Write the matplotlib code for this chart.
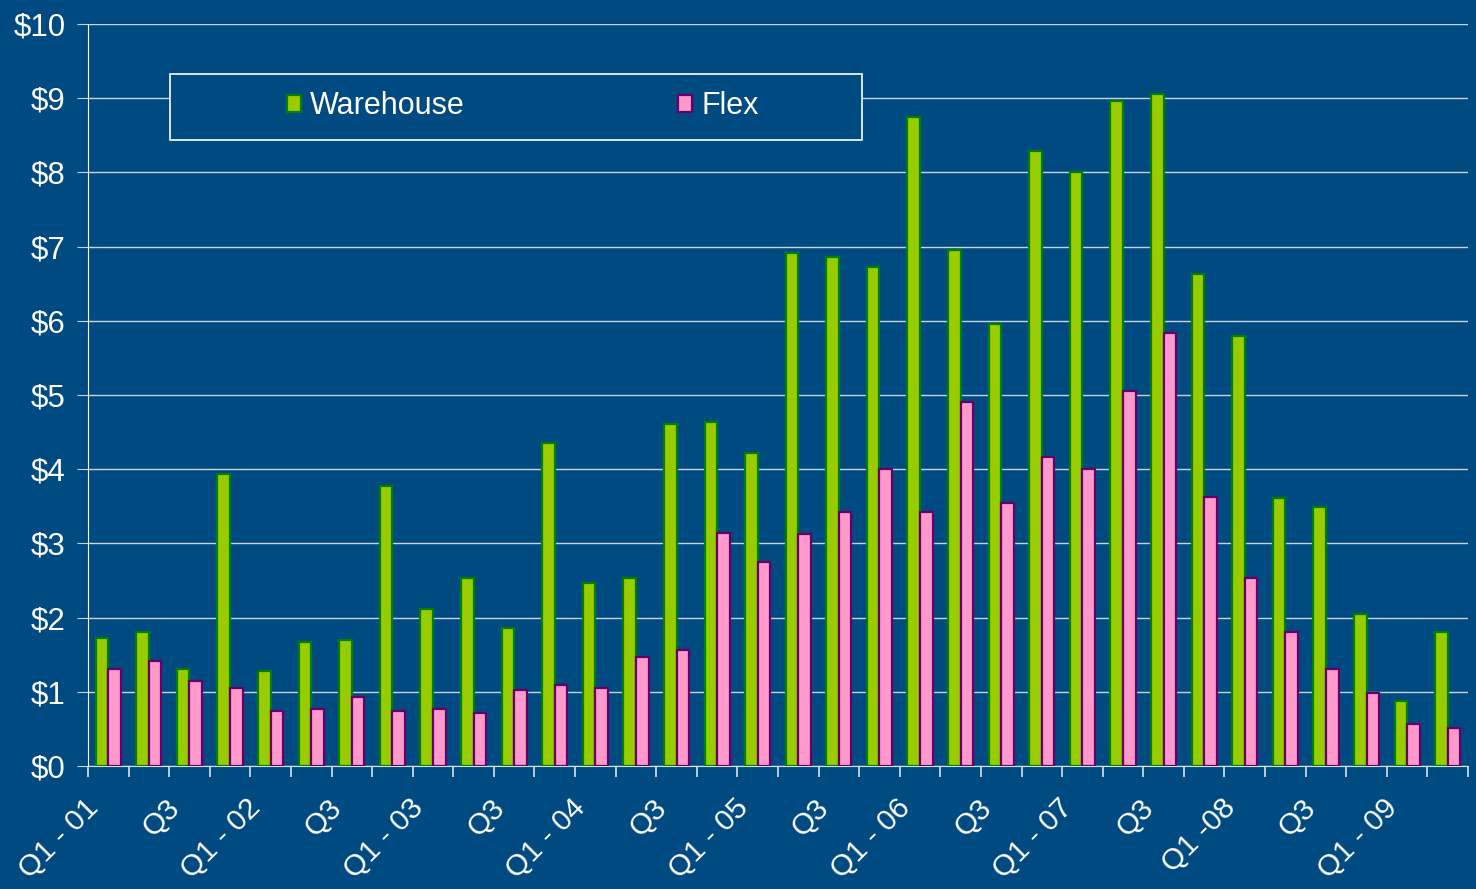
import numpy as np
import matplotlib.pyplot as plt
from matplotlib.patches import Rectangle
from matplotlib.transforms import ScaledTranslation

# trimestres Q1-01 .. Q2-09
trimestres = ['Q1 - 01', '', 'Q3', '', 'Q1 - 02', '', 'Q3', '', 'Q1 - 03', '', 'Q3', '',
              'Q1 - 04', '', 'Q3', '', 'Q1 - 05', '', 'Q3', '', 'Q1 - 06', '', 'Q3', '',
              'Q1 - 07', '', 'Q3', '', 'Q1 -08', '', 'Q3', '', 'Q1 - 09', '']

warehouse = [1.73, 1.80, 1.31, 3.93, 1.28, 1.67, 1.70, 3.77, 2.11, 2.53, 1.86, 4.35,
             2.47, 2.53, 4.61, 4.64, 4.22, 6.92, 6.86, 6.73, 8.74, 6.95, 5.96, 8.29,
             8.00, 8.96, 9.06, 6.63, 5.80, 3.61, 3.49, 2.05, 0.87, 1.80]

flex = [1.31, 1.41, 1.15, 1.05, 0.74, 0.77, 0.93, 0.74, 0.77, 0.71, 1.02, 1.09,
        1.05, 1.47, 1.57, 3.14, 2.75, 3.13, 3.42, 4.00, 3.42, 4.90, 3.55, 4.16,
        4.00, 5.06, 5.84, 3.62, 2.53, 1.80, 1.31, 0.99, 0.57, 0.51]

fondo = '#004A82'
plt.rcParams['font.family'] = ['Liberation Sans', 'DejaVu Sans']

fig = plt.figure(figsize=(14.76, 8.89), dpi=100, facecolor=fondo)
ax = fig.add_axes([88/1476, 1 - 766/889, 1380/1476, 742/889])
ax.set_facecolor(fondo)

x = np.arange(len(trimestres))
ancho = 0.31
ax.bar(x - ancho/2, warehouse, ancho, color='#99CC00', edgecolor='#008000', linewidth=1.6,
       label='Warehouse', zorder=3)
ax.bar(x + ancho/2, flex, ancho, color='#FF99CC', edgecolor='#660066', linewidth=1.6,
       label='Flex', zorder=3)

ax.set_xlim(-0.5, len(trimestres) - 0.5)
ax.set_ylim(0, 10)
ax.set_yticks(range(0, 11))
ax.set_yticklabels(['$%d' % v for v in range(0, 11)], color='white', fontsize=22.5)
ax.yaxis.grid(True, color='#c8d4e2', linewidth=1, zorder=0)
ax.tick_params(axis='y', length=8, color='#c8d4e2', pad=8)

ax.set_xticks(x)
ax.set_xticklabels(trimestres, rotation=45, ha='right', va='top', rotation_mode='anchor',
                   color='white', fontsize=21.5)
ax.tick_params(axis='x', which='major', length=0, pad=20)
desplazo = ScaledTranslation(-24/100, 0, fig.dpi_scale_trans)
for etiqueta in ax.get_xticklabels():
    etiqueta.set_transform(etiqueta.get_transform() + desplazo)
ax.set_xticks(np.arange(-0.5, len(trimestres)), minor=True)
ax.tick_params(axis='x', which='minor', length=8, color='#d8e2ee', width=1.2)

for lado in ['top', 'right']:
    ax.spines[lado].set_visible(False)
ax.spines['left'].set_color('white')
ax.spines['bottom'].set_color('#d8e2ee')

# recuadro de la leyenda
x0 = (170 - 88) / 1380
y0 = (766 - 140) / 742
ax.add_patch(Rectangle((x0, y0), (862 - 170) / 1380, 66 / 742, transform=ax.transAxes,
                       facecolor=fondo, edgecolor='white', linewidth=1.2, zorder=4))
leg = ax.legend(loc='center', bbox_to_anchor=(0.315, 0.889), ncol=2, frameon=False,
                fontsize=22, handlelength=0.45, handleheight=0.45, handletextpad=0.3,
                columnspacing=7.0)
leg.set_zorder(5)
for t in leg.get_texts():
    t.set_color('white')

plt.savefig('out.png', dpi=100, facecolor=fondo)
